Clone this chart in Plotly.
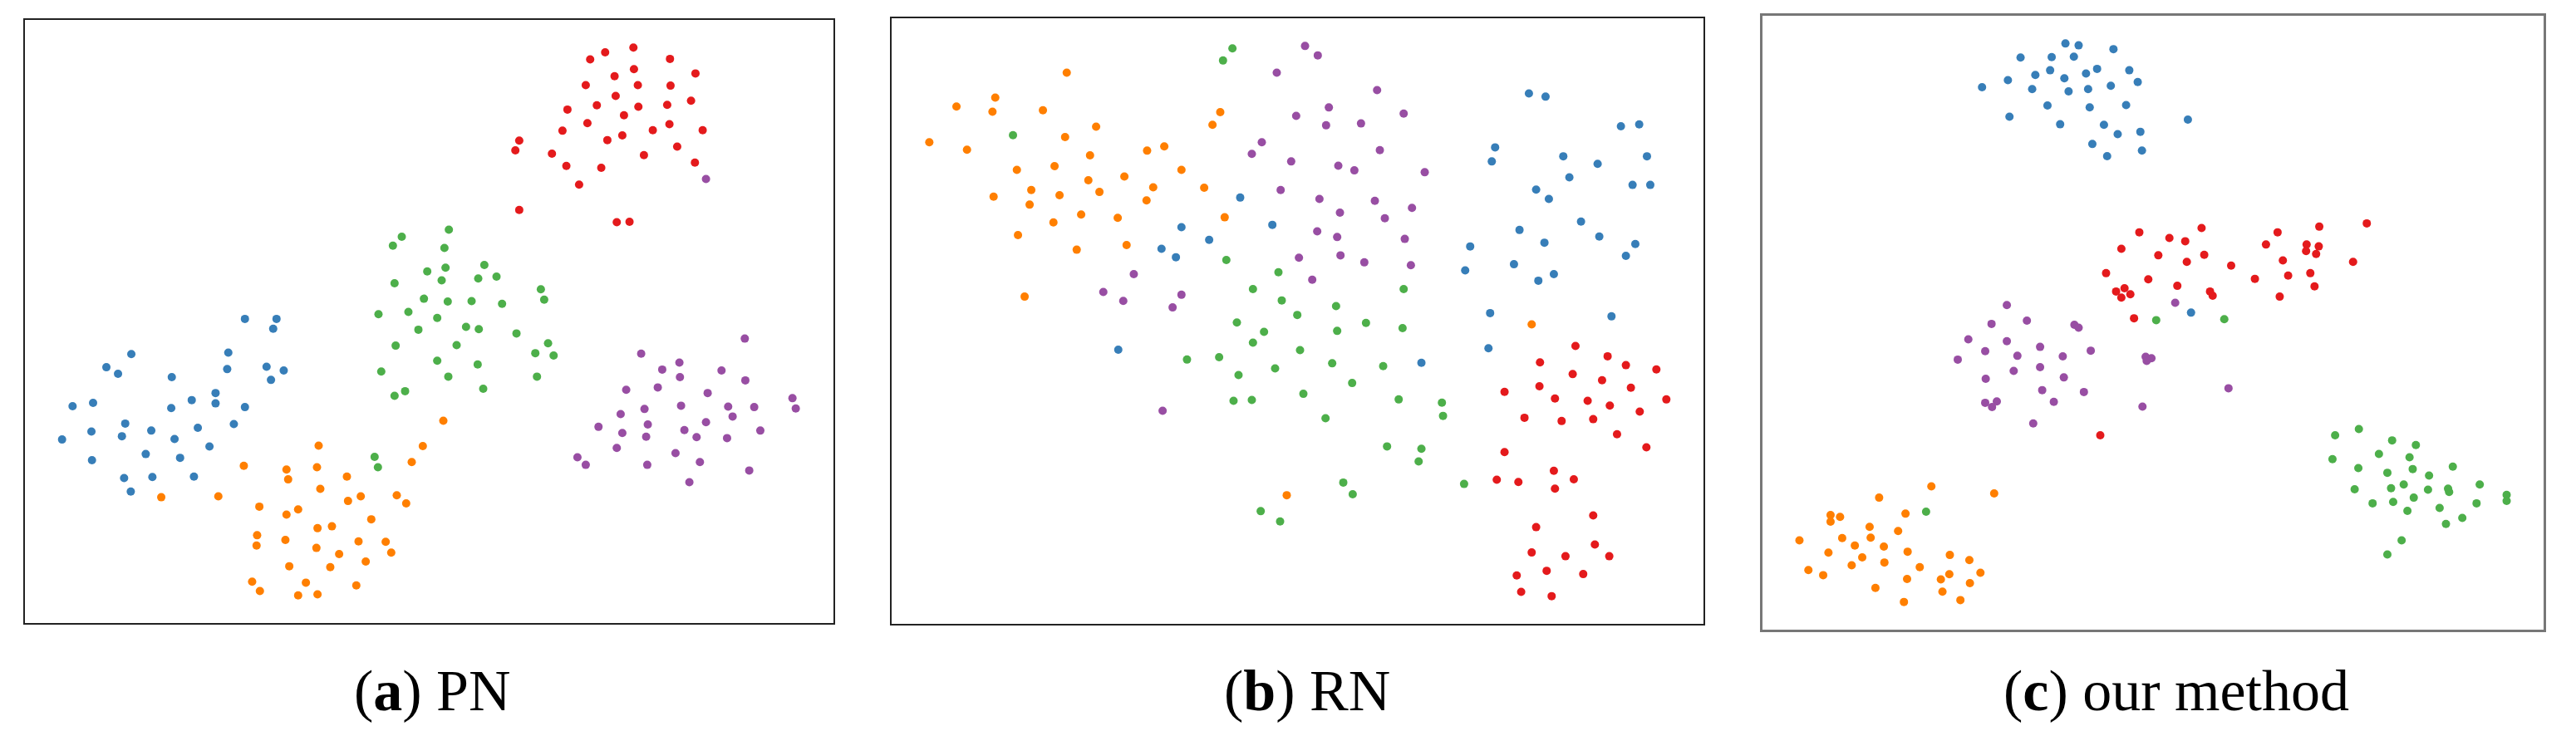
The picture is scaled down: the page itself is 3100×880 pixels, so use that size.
import plotly.graph_objects as go

# point positions, in pixel units of each panel (y grows downward)
a_red = [(1131,87),(1080,97),(1053,112),(1197,111),(1243,142),(1132,133),(1097,148),(1045,167),(1139,167),(1198,168),(1099,190),(1235,200),(1065,210),(1140,213),(1192,209),(1012,219),(1114,231),(1048,248),(1196,250),(1003,264),(1166,263),(1256,263),(1111,274),(1084,284),(925,285),(918,306),(984,313),(1150,316),(1210,298),(1010,339),(1073,343),(1242,332),(1033,379),(925,433),(1101,459),(1124,458)]
a_purple = [(1262,367),(1332,707),(1145,739),(1214,758),(1183,773),(1290,775),(1215,789),(1333,796),(1118,816),(1175,811),(1265,823),(1418,834),(1424,856),(1217,850),(1302,852),(1349,853),(1151,857),(1108,868),(1310,873),(1068,895),(1157,890),(1262,885),(1223,902),(1111,908),(1360,903),(1154,916),(1245,917),(1300,919),(1101,940),(1207,951),(1030,960),(1045,976),(1156,976),(1251,970),(1340,988),(1232,1013)]
a_green = [(798,475),(713,490),(697,509),(790,514),(792,556),(862,550),(759,564),(785,583),(851,579),(884,575),(700,589),(964,602),(970,624),(753,622),(796,628),(839,627),(894,633),(725,650),(671,655),(777,663),(829,682),(852,687),(743,688),(920,696),(977,717),(702,722),(812,721),(954,738),(987,743),(777,754),(850,762),(676,777),(797,788),(957,788),(860,814),(719,819),(700,829),(664,959),(670,981)]
a_blue = [(430,665),(487,665),(481,686),(225,740),(400,737),(180,768),(201,782),(398,772),(469,767),(500,775),(298,789),(477,795),(377,823),(334,838),(377,845),(119,851),(156,844),(297,855),(430,853),(214,888),(410,889),(345,897),(153,905),(261,903),(208,915),(303,921),(100,922),(366,937),(251,953),(313,961),(154,966),(212,1004),(263,1002),(338,1001),(224,1033)]
a_orange = [(788,882),(563,935),(751,936),(731,970),(428,978),(505,986),(560,981),(508,1007),(614,1001),(566,1027),(279,1045),(382,1043),(704,1041),(639,1043),(616,1053),(721,1058),(456,1065),(526,1071),(505,1082),(658,1092),(587,1107),(561,1111),(452,1126),(451,1148),(503,1136),(635,1139),(684,1140),(559,1153),(694,1163),(600,1166),(648,1182),(510,1192),(584,1194),(443,1225),(540,1227),(631,1233),(457,1245),(526,1254),(561,1252)]

b_orange = [(354,141),(225,194),(155,213),(220,224),(311,221),(631,225),(617,252),(407,256),(351,278),(106,289),(174,305),(530,298),(499,307),(396,317),(264,348),(332,340),(561,348),(458,362),(393,370),(510,385),(290,391),(602,386),(222,405),(341,402),(413,395),(498,413),(287,422),(380,443),(446,450),(639,449),(330,460),(266,487),(462,508),(372,518),(278,618),(1193,677),(751,1041)]
b_green = [(653,89),(636,115),(257,274),(642,540),(736,566),(690,602),(962,602),(742,626),(840,638),(770,657),(661,673),(894,674),(710,693),(842,691),(960,685),(690,716),(775,732),(571,752),(629,747),(833,760),(925,766),(730,771),(664,785),(869,802),(781,825),(655,840),(688,838),(953,837),(1031,844),(1033,872),(821,877),(932,937),(994,942),(989,969),(853,1014),(870,1039),(1071,1017),(704,1075),(739,1097)]
b_purple = [(784,84),(807,104),(733,141),(914,178),(827,215),(768,233),(962,228),(822,253),(885,249),(706,289),(919,306),(688,314),(759,330),(844,339),(873,349),(1000,353),(740,391),(810,410),(910,414),(977,429),(847,439),(928,451),(806,479),(842,491),(964,495),(773,535),(848,530),(891,545),(975,551),(797,582),(475,570),(420,608),(561,614),(456,627),(545,641),(527,861)]
b_blue = [(1188,185),(1218,192),(1354,255),(1387,251),(1127,300),(1121,330),(1250,319),(1312,335),(1401,319),(1261,364),(1375,380),(1407,380),(1201,390),(1224,410),(667,407),(725,465),(561,470),(611,497),(1282,458),(1171,476),(1216,503),(1315,490),(1380,506),(1363,531),(1082,511),(525,516),(551,534),(1161,549),(1073,562),(1233,570),(1205,584),(1118,653),(1337,660),(1115,728),(994,759),(447,731)]
b_red = [(1272,723),(1330,745),(1208,758),(1363,764),(1418,773),(1267,783),(1320,796),(1207,809),(1372,812),(1144,821),(1235,835),(1294,840),(1436,837),(1334,850),(1388,863),(1180,876),(1247,883),(1304,879),(1347,911),(1400,939),(1144,949),(1233,989),(1130,1008),(1169,1013),(1269,1007),(1235,1027),(1304,1084),(1201,1109),(1307,1146),(1193,1163),(1254,1171),(1333,1171),(1220,1202),(1286,1209),(1166,1212),(1174,1247),(1229,1256)]

c_blue = [(631,79),(656,83),(722,91),(546,109),(605,108),(647,107),(574,146),(602,136),(691,133),(752,136),(522,157),(629,153),(670,143),(768,161),(473,172),(568,176),(637,181),(674,176),(717,169),(597,211),(677,215),(746,210),(525,235),(863,241),(621,251),(704,252),(730,272),(773,267),(682,293),(776,307),(710,319),(869,652)]
c_red = [(1202,462),(889,472),(1112,469),(771,481),(1033,481),(828,493),(858,500),(1011,507),(1088,507),(1111,511),(737,516),(807,530),(894,529),(1087,521),(1106,527),(861,544),(1043,541),(1176,544),(945,552),(708,568),(1053,573),(1095,568),(788,581),(990,580),(843,595),(1103,596),(727,607),(743,600),(754,613),(737,620),(905,607),(910,616),(1037,618),(761,664),(697,913)]
c_purple = [(520,636),(491,676),(558,669),(648,678),(656,684),(447,709),(520,713),(583,725),(479,734),(540,744),(626,745),(679,733),(427,752),(783,746),(794,749),(785,755),(533,776),(583,768),(480,793),(628,790),(587,817),(666,821),(479,844),(501,841),(492,853),(609,842),(777,852),(940,813),(570,888),(839,631)]
c_green = [(803,668),(932,666),(367,1076),(1142,913),(1187,900),(1250,924),(1295,934),(1225,953),(1283,960),(1137,964),(1186,983),(1241,993),(1289,985),(1365,980),(1320,999),(1179,1028),(1248,1026),(1272,1018),(1318,1029),(1356,1027),(1358,1034),(1416,1018),(1291,1046),(1467,1040),(1467,1053),(1213,1058),(1252,1055),(1279,1074),(1340,1068),(1410,1058),(1352,1102),(1383,1089),(1268,1137),(1241,1167)]
c_orange = [(377,1022),(496,1037),(278,1046),(328,1080),(186,1083),(204,1087),(186,1097),(260,1108),(314,1117),(127,1137),(208,1132),(262,1131),(232,1148),(287,1150),(182,1163),(332,1161),(246,1173),(412,1168),(449,1179),(226,1190),(288,1184),(355,1194),(144,1200),(172,1211),(470,1206),(411,1209),(331,1219),(395,1220),(450,1228),(271,1238),(398,1246),(432,1264),(325,1268)]

captions = ["(<b>a</b>) PN", "(<b>b</b>) RN", "(<b>c</b>) our method"]

COLORS = {"blue": "#377eb8", "orange": "#ff7f00", "green": "#4daf4a",
          "red": "#e41a1c", "purple": "#984ea3"}

panels = [
    # groups, x range, y range, x domain px, y domain px, caption x px, frame
    ({"blue": a_blue, "orange": a_orange, "green": a_green, "red": a_red, "purple": a_purple},
     (33, 1492), (28, 1313), (22, 995), (16, 742), 512, ("#222", 1.5)),
    ({"blue": b_blue, "orange": b_orange, "green": b_green, "red": b_red, "purple": b_purple},
     (38, 1503), (25, 1315), (1065, 2042), (14, 743), 1565, ("#222", 1.5)),
    ({"blue": c_blue, "orange": c_orange, "green": c_green, "red": c_red, "purple": c_purple},
     (57, 1537), (20, 1327), (2113, 3053), (11, 750), 2611, ("#777", 3)),
]

W, H = 3100, 880
fig = go.Figure()
for i, (groups, xr, yr, xd, yd, cx, frame) in enumerate(panels):
    n = "" if i == 0 else str(i + 1)
    for name, pts in groups.items():
        fig.add_trace(go.Scatter(
            x=[p[0] for p in pts], y=[p[1] for p in pts], mode="markers",
            marker=dict(color=COLORS[name], size=10), showlegend=False,
            xaxis="x" + n, yaxis="y" + n))
    axis = dict(showgrid=False, zeroline=False, showticklabels=False, ticks="",
                showline=True, mirror=True, linecolor=frame[0], linewidth=frame[1])
    fig.update_layout(**{
        "xaxis" + n: dict(axis, range=list(xr), domain=[xd[0] / W, xd[1] / W],
                          anchor="y" + n),
        "yaxis" + n: dict(axis, range=[yr[1], yr[0]],
                          domain=[1 - yd[1] / H, 1 - yd[0] / H], anchor="x" + n),
    })
    fig.add_annotation(text=captions[i], x=cx / W, y=1 - 823 / H, xref="paper",
                       yref="paper", xanchor="center", yanchor="middle",
                       showarrow=False,
                       font=dict(family="Liberation Serif", size=70, color="black"))

fig.update_layout(width=W, height=H, margin=dict(l=0, r=0, t=0, b=0),
                  plot_bgcolor="white", paper_bgcolor="white")
fig.write_html("out.html")
